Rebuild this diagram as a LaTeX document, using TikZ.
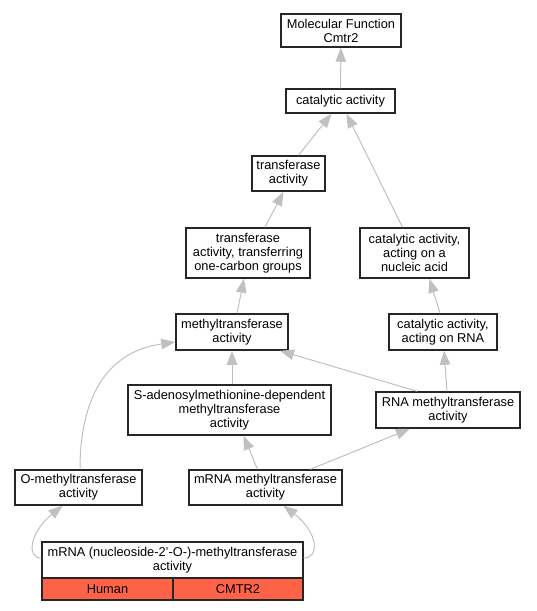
\documentclass[tikz,border=0pt]{standalone}
\usepackage{fontspec}
\setmainfont{Liberation Sans}
\usetikzlibrary{arrows.meta}

\definecolor{edgegray}{HTML}{C0C0C0}
\definecolor{hitred}{HTML}{FF6347}

\tikzset{
  term/.style={draw=black!85, fill=white, line width=1.5pt, align=center, inner sep=0pt,
    font={\fontsize{12.8}{14}\selectfont}},
  hit/.style={term, fill=hitred, minimum height=22pt},
  isa/.style={draw=edgegray, line width=1pt, -{Triangle[length=14pt,width=10.5pt]}}
}

\begin{document}
\begin{tikzpicture}[x=1pt, y=-1pt]

\useasboundingbox (0,0) rectangle (536,611);

\node [term, minimum width=120pt, minimum height=33pt] (mf) at (341,30.5) {Molecular Function\\Cmtr2};
\node [term, minimum width=109pt, minimum height=24pt] (cat) at (340.5,101) {catalytic activity};
\node [term, minimum width=73pt, minimum height=35pt] (trans) at (288.5,173.5) {transferase\\activity};
\node [term, minimum width=124pt, minimum height=50pt] (onecarbon) at (248,253)
  {transferase\\activity, transferring\\one-carbon groups};
\node [term, minimum width=109pt, minimum height=50pt] (nucleic) at (414.5,253)
  {catalytic activity,\\acting on a\\nucleic acid};
\node [term, minimum width=112pt, minimum height=36pt] (methyl) at (232,332) {methyltransferase\\activity};
\node [term, minimum width=108pt, minimum height=36pt] (onrna) at (443,332) {catalytic activity,\\acting on RNA};
\node [term, minimum width=203pt, minimum height=50pt] (sam) at (229.5,410)
  {S-adenosylmethionine-dependent\\methyltransferase\\activity};
\node [term, minimum width=144pt, minimum height=36pt] (rnameth) at (448,410) {RNA methyltransferase\\activity};
\node [term, minimum width=127pt, minimum height=35pt] (ometh) at (78.5,487.5) {O-methyltransferase\\activity};
\node [term, minimum width=153pt, minimum height=35pt] (mrnameth) at (265.5,487.5) {mRNA methyltransferase\\activity};

% annotated term with its gene row
\node [term, minimum width=261pt, minimum height=36pt] (leaf) at (172.5,560)
  {mRNA (nucleoside-2'-O-)-methyltransferase\\activity};
\node [hit, minimum width=131pt] (human) at (107.5,589) {Human};
\node [hit, minimum width=130pt] (cmtr) at (238,589) {CMTR2};

% is_a edges
\draw [isa] (cat) -- (mf);
\draw [isa] ([xshift=10pt]trans.north) -- ([xshift=-9pt]cat.south);
\draw [isa] ([xshift=-12pt]nucleic.north) -- ([xshift=6pt]cat.south);
\draw [isa] ([xshift=17pt]onecarbon.north) -- ([xshift=-5pt]trans.south);
\draw [isa] ([xshift=5pt]methyl.north) -- ([xshift=-4pt]onecarbon.south);
\draw [isa] ([xshift=-3pt]onrna.north) -- ([xshift=15pt]nucleic.south);
\draw [isa] ([xshift=2.5pt]sam.north) -- (methyl.south);
\draw [isa] ([xshift=-31pt]rnameth.north) -- ([xshift=48pt]methyl.south);
\draw [isa] ([xshift=-1pt]rnameth.north) -- ([xshift=1pt]onrna.south);
\draw [isa] ([xshift=-8pt]mrnameth.north) -- ([xshift=14pt]sam.south);
\draw [isa] ([xshift=45pt]mrnameth.north) -- ([xshift=-38pt]rnameth.south);
\draw [isa] ([xshift=1.5pt]ometh.north) .. controls (80,400) and (105,352) .. ([yshift=-10pt]methyl.west);
\draw [isa] ([yshift=2pt]leaf.west) .. controls (26,558) and (30,532) .. ([xshift=-16pt]ometh.south);
\draw [isa] ([yshift=2pt]leaf.east) .. controls (320,558) and (318,532) .. ([xshift=18pt]mrnameth.south);

\end{tikzpicture}
\end{document}
